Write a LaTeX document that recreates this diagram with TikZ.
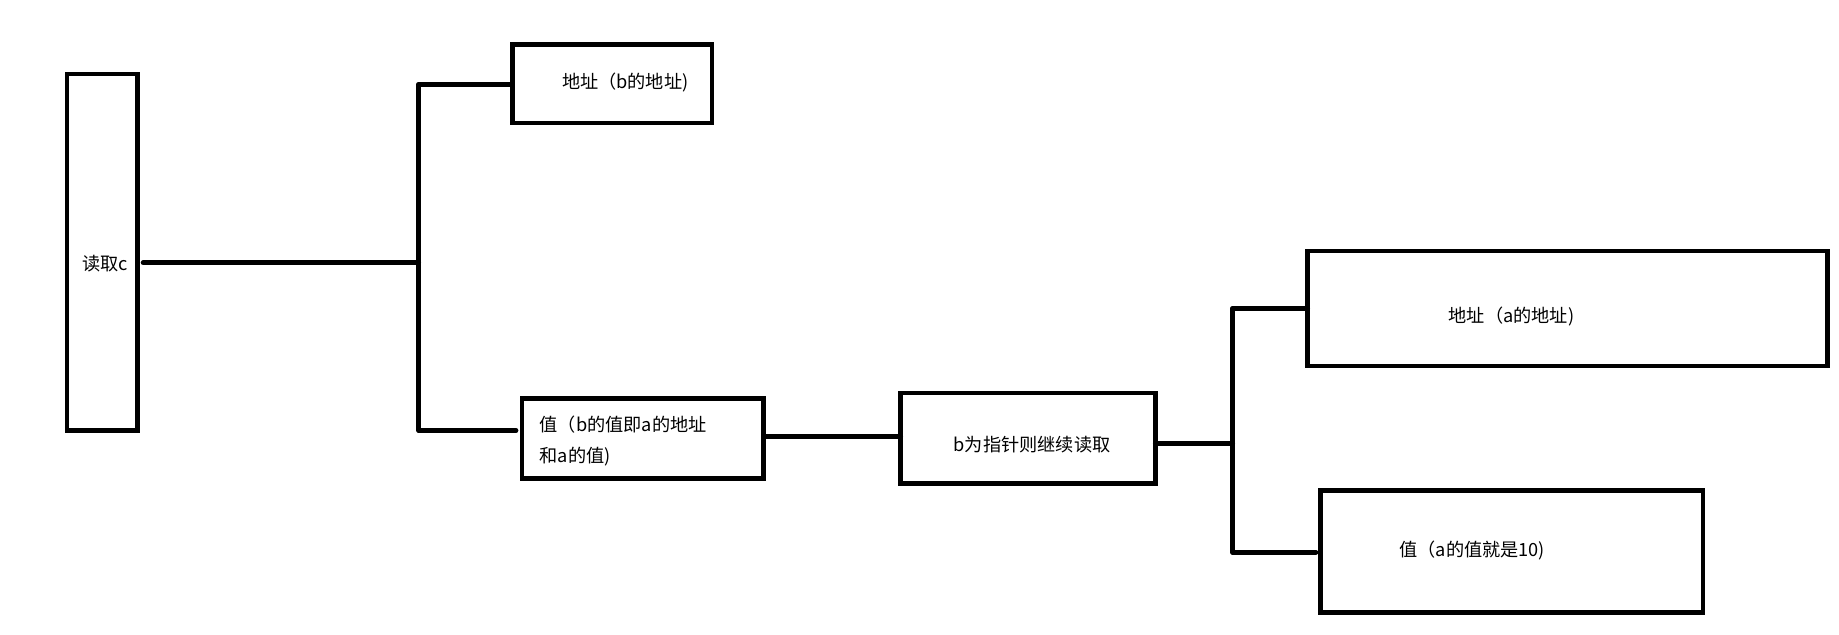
\documentclass[tikz,border=0pt]{standalone}
\usepackage{fontspec}
\newfontfamily\cjk{Noto Sans CJK SC}
\begin{document}
\begin{tikzpicture}[x=1pt,y=-1pt,
  box/.style={draw=black,line width=4pt,rectangle,inner sep=0pt,outer sep=0pt},
  conn/.style={draw=black,line width=4pt,line cap=round},
  lbl/.style={anchor=west,inner sep=0pt,font=\cjk\fontsize{15.5}{24}\selectfont,align=left}]
\useasboundingbox (0,0) rectangle (1568,541);
% boxes
\node[box,minimum width=60pt,minimum height=304pt] (c) at (87,215) {};
\node[box,minimum width=170pt,minimum height=67pt] (b1) at (522,71.5) {};
\node[box,minimum width=206pt,minimum height=68pt] (b2) at (548,374) {};
\node[box,minimum width=217pt,minimum height=77pt] (b3) at (876.5,373.5) {};
\node[box,minimum width=443pt,minimum height=98pt] (b4) at (1336.5,263) {};
\node[box,minimum width=326pt,minimum height=104pt] (b5) at (1289,470) {};
% labels
\node[lbl] (t0) at (70,225) {读取c};
\node[lbl] (t1) at (479,70) {地址（b的地址)};
\node[lbl] (t2a) at (460,362) {值（b的值即a的地址};
\node[lbl] (t2b) at (460,389) {和a的值)};
\node[lbl] (t3) at (813,379) {b为指针则继续读取};
\node[lbl] (t4) at (1235,270) {地址（a的地址)};
\node[lbl] (t5) at (1193,469) {值（a的值就是10)};
% fork points
\coordinate (f1) at (357,224);
\coordinate (f1t) at (357,72);
\coordinate (f1b) at (357,367);
\coordinate (f2) at (1051,378);
\coordinate (f2t) at (1051,263);
\coordinate (f2b) at (1051,471);
% connectors
\draw[conn] ([xshift=5pt]c.east |- f1) -- (f1);
\draw[conn] (f1t) -- (f1b);
\draw[conn] (f1t) -- (f1t -| b1.west);
\draw[conn] (f1b) -- ([xshift=-5pt]f1b -| b2.west);
\draw[conn] (b2.east |- 0,372) -- (b3.west |- 0,372);
\draw[conn] (b3.east |- f2) -- (f2);
\draw[conn] (f2t) -- (f2b);
\draw[conn] (f2t) -- (f2t -| b4.west);
\draw[conn] (f2b) -- ([xshift=-4pt]f2b -| b5.west);
\end{tikzpicture}
\end{document}
